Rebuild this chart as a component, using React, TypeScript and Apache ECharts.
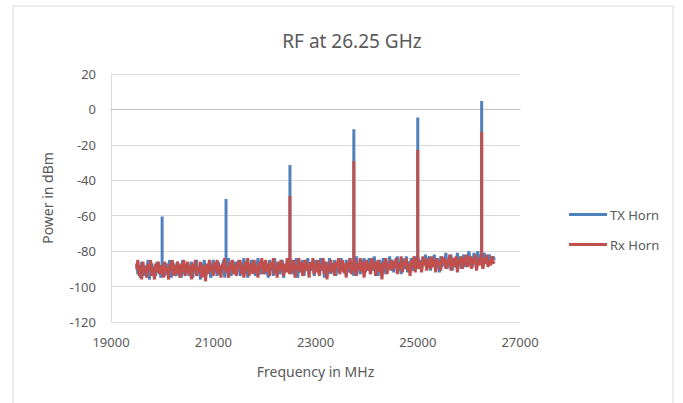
import React, { useEffect, useRef } from "react";
import * as echarts from "echarts";

const title = "RF at 26.25 GHz";
const seriesNames = ["TX Horn", "Rx Horn"];
const startFreq = 19500;
const stepFreq = 25;

const txNoise = [
  -87, -93, -89, -95, -86, -91, -94, -88, -92, -85, -96, -90, -87, -93, -89, -94, -86, -92, -88, -95,
  -86, -91, -94, -87, -93, -89, -85, -95, -90, -87, -92, -94, -86, -91, -88, -95, -85, -93, -89, -91,
  -87, -94, -90, -86, -95, -88, -92, -85, -93, -89, -96, -87, -91, -85, -94, -88, -92, -86, -95, -90,
  -85, -92, -88, -94, -86, -93, -89, -91, -85, -95, -87, -92, -84, -90, -94, -87, -91, -86, -93, -88,
  -85, -94, -89, -91, -84, -93, -87, -95, -88, -90, -85, -92, -86, -94, -89, -84, -91, -93, -87, -90,
  -86, -93, -88, -95, -85, -91, -87, -94, -84, -90, -92, -86, -93, -88, -85, -95, -89, -91, -84, -92,
  -88, -85, -93, -87, -91, -84, -95, -89, -86, -92, -85, -94, -88, -90, -84, -93, -87, -91, -86, -94,
  -85, -90, -87, -93, -84, -91, -88, -95, -86, -89, -92, -84, -93, -87, -90, -85, -94, -88, -86, -92,
  -84, -91, -87, -93, -85, -89, -92, -84, -90, -86, -94, -87, -83, -91, -88, -93, -85, -90, -84, -92,
  -86, -89, -84, -93, -87, -91, -83, -90, -88, -94, -85, -89, -92, -84, -87, -93, -86, -90, -83, -91,
  -85, -92, -87, -89, -83, -91, -86, -93, -84, -88, -90, -83, -92, -86, -89, -84, -91, -87, -83, -90,
  -82, -89, -85, -91, -84, -88, -82, -90, -86, -83, -91, -85, -88, -82, -90, -84, -87, -92, -83, -89,
  -84, -88, -81, -90, -85, -87, -82, -91, -84, -86, -89, -81, -88, -83, -90, -85, -82, -89, -84, -87,
  -80, -86, -83, -89, -81, -85, -88, -80, -87, -82, -84, -89, -81, -86, -83, -88, -82, -85, -87, -83,
  -85,
];

const rxNoise = [
  -90, -85, -94, -88, -96, -86, -92, -89, -95, -87, -91, -85, -94, -89, -96, -87, -92, -86, -93, -90,
  -88, -95, -86, -92, -89, -96, -87, -91, -85, -94, -88, -93, -86, -90, -95, -87, -92, -85, -94, -89,
  -86, -93, -88, -96, -87, -91, -85, -94, -89, -92, -86, -95, -88, -90, -97, -87, -93, -85, -91, -88,
  -94, -86, -91, -85, -93, -88, -95, -87, -90, -84, -92, -89, -95, -86, -91, -85, -93, -88, -94, -86,
  -90, -85, -93, -88, -95, -86, -91, -84, -94, -89, -87, -93, -85, -92, -88, -95, -86, -90, -84, -93,
  -88, -85, -92, -87, -94, -86, -90, -84, -93, -88, -95, -86, -91, -85, -89, -94, -87, -92, -84, -90,
  -93, -87, -91, -85, -95, -88, -90, -84, -92, -86, -94, -89, -85, -91, -87, -95, -86, -90, -84, -93,
  -87, -92, -85, -94, -88, -90, -84, -93, -86, -96, -88, -91, -85, -92, -87, -94, -86, -89, -84, -93,
  -88, -85, -92, -87, -95, -86, -90, -84, -93, -88, -91, -85, -94, -87, -90, -84, -92, -86, -95, -88,
  -85, -91, -87, -93, -84, -90, -86, -94, -88, -85, -92, -87, -96, -86, -89, -84, -93, -87, -90, -85,
  -91, -86, -89, -84, -93, -87, -90, -83, -92, -86, -88, -84, -91, -87, -94, -85, -89, -83, -92, -86,
  -84, -90, -86, -92, -83, -88, -85, -91, -84, -87, -90, -83, -89, -85, -92, -84, -88, -86, -91, -83,
  -87, -84, -90, -85, -88, -82, -91, -86, -84, -89, -83, -92, -85, -87, -83, -90, -84, -88, -82, -89,
  -85, -83, -90, -84, -87, -82, -91, -85, -88, -83, -86, -90, -84, -87, -82, -89, -85, -88, -83, -86,
  -87,
];

const spikeFreqs = [20000, 21250, 22500, 23750, 25000, 26250];
const txPeaks = [-60.5, -50.6, -31.4, -11.2, -4.6, 4.8];
const rxPeaks: (number | null)[] = [null, null, -48.9, -29.1, -22.9, -12.6];

const xTicks = { min: 19000, max: 27000, interval: 2000 };
const yTicks = { min: -120, max: 20, interval: 20 };

function buildData(noise: number[], peaks: (number | null)[]) {
  const out: [number, number][] = [];
  noise.forEach((v, i) => {
    const f = startFreq + stepFreq * i;
    out.push([f, v]);
    const k = spikeFreqs.indexOf(f);
    if (k >= 0 && peaks[k] !== null) {
      out.push([f, peaks[k] as number]);
      out.push([f, v]);
    }
  });
  return out;
}

export default function App() {
  const ref = useRef<HTMLDivElement>(null);
  useEffect(() => {
    document.body.style.margin = "0";
    const chart = echarts.init(ref.current!, undefined, { renderer: "svg" });
    const font = "Noto Sans";
    const grey = "#595959";
    chart.setOption({
      animation: false,
      backgroundColor: "#fff",
      textStyle: { fontFamily: font },
      graphic: [
        {
          type: "rect",
          shape: { x: 13, y: 6, width: 660, height: 410 },
          style: { fill: "none", stroke: "#d9d9d9", lineWidth: 1 },
          silent: true,
        },
      ],
      title: {
        text: title,
        left: 347,
        textAlign: "center",
        top: 26,
        textStyle: { fontFamily: font, fontSize: 19, fontWeight: "normal", color: grey },
      },
      legend: {
        orient: "vertical",
        left: 564,
        top: 203,
        icon: "rect",
        itemWidth: 38,
        itemHeight: 3,
        itemGap: 17,
        data: seriesNames,
        textStyle: { fontFamily: font, fontSize: 13, color: grey, padding: [0, 0, 0, -2] },
      },
      grid: { left: 111, right: 163, top: 74, bottom: 81 },
      xAxis: {
        type: "value",
        min: xTicks.min,
        max: xTicks.max,
        interval: xTicks.interval,
        name: "Frequency in MHz",
        nameLocation: "middle",
        nameGap: 42,
        nameTextStyle: { fontFamily: font, fontSize: 14, color: grey },
        axisLine: { show: true, lineStyle: { color: "#bfbfbf" } },
        axisTick: { show: false },
        axisLabel: {
          fontFamily: font,
          fontSize: 13,
          color: grey,
          margin: 13,
          formatter: (v: number) => String(v),
        },
        splitLine: { show: false },
      },
      yAxis: {
        type: "value",
        min: yTicks.min,
        max: yTicks.max,
        interval: yTicks.interval,
        name: "Power in dBm",
        nameLocation: "middle",
        nameGap: 57,
        nameTextStyle: { fontFamily: font, fontSize: 14, color: grey },
        axisLine: { show: true, lineStyle: { color: "#d9d9d9" } },
        axisTick: { show: false },
        axisLabel: { fontFamily: font, fontSize: 13, color: grey, margin: 15 },
        splitLine: { show: true, lineStyle: { color: "#d9d9d9" } },
      },
      series: [
        {
          name: seriesNames[0],
          type: "line",
          symbol: "none",
          data: buildData(txNoise, txPeaks),
          lineStyle: { color: "#4F81BD", width: 3 },
          itemStyle: { color: "#4F81BD" },
        },
        {
          name: seriesNames[1],
          type: "line",
          symbol: "none",
          data: buildData(rxNoise, rxPeaks),
          lineStyle: { color: "#C0504D", width: 3 },
          itemStyle: { color: "#C0504D" },
        },
      ],
    });
    return () => chart.dispose();
  }, []);
  return <div ref={ref} style={{ width: 683, height: 403 }} />;
}
